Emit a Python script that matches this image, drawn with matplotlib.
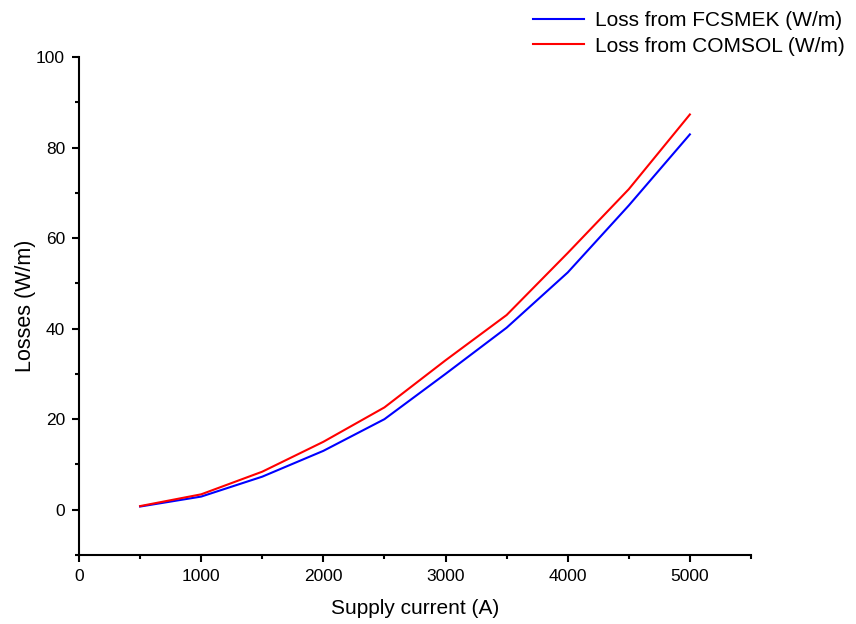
import matplotlib
matplotlib.use("Agg")
import matplotlib.pyplot as plt
from matplotlib.ticker import MultipleLocator

plt.rcParams['font.family'] = ['Liberation Sans', 'DejaVu Sans']

current = [500, 1000, 1500, 2000, 2500, 3000, 3500, 4000, 4500, 5000]
loss_fcsmek = [0.7, 2.9, 7.3, 13.0, 20.0, 30.0, 40.2, 52.4, 67.2, 82.9]
loss_comsol = [0.8, 3.4, 8.4, 15.0, 22.6, 33.0, 43.0, 56.7, 70.8, 87.3]

fig = plt.figure(figsize=(8.56, 6.24), dpi=100)
ax = fig.add_axes([0.0923, 0.1106, 0.7850, 0.7981])

ax.plot(current, loss_fcsmek, color='#0000ff', lw=1.5, label='Loss from FCSMEK (W/m)')
ax.plot(current, loss_comsol, color='#ff0000', lw=1.5, label='Loss from COMSOL (W/m)')

ax.set_xlim(0, 5500)
ax.set_ylim(-10, 100)
ax.xaxis.set_major_locator(MultipleLocator(1000))
ax.xaxis.set_minor_locator(MultipleLocator(500))
ax.yaxis.set_major_locator(MultipleLocator(20))
ax.yaxis.set_minor_locator(MultipleLocator(10))

for s in ['top', 'right']:
    ax.spines[s].set_visible(False)
for s in ['left', 'bottom']:
    ax.spines[s].set_linewidth(1.5)

ax.tick_params(which='major', direction='out', length=5, width=1.5, labelsize=12.5, pad=5)
ax.tick_params(which='minor', direction='out', length=3, width=1.5)

ax.set_xlabel('Supply current (A)', fontsize=15, labelpad=11)
ax.set_ylabel('Losses (W/m)', fontsize=15.5, labelpad=0)

fig.legend(loc='upper right', bbox_to_anchor=(1.0, 1.0), frameon=False,
           fontsize=15, handlelength=2.45, handletextpad=0.5, labelspacing=0.3,
           borderaxespad=0.15)

fig.savefig('out.png', dpi=100)
